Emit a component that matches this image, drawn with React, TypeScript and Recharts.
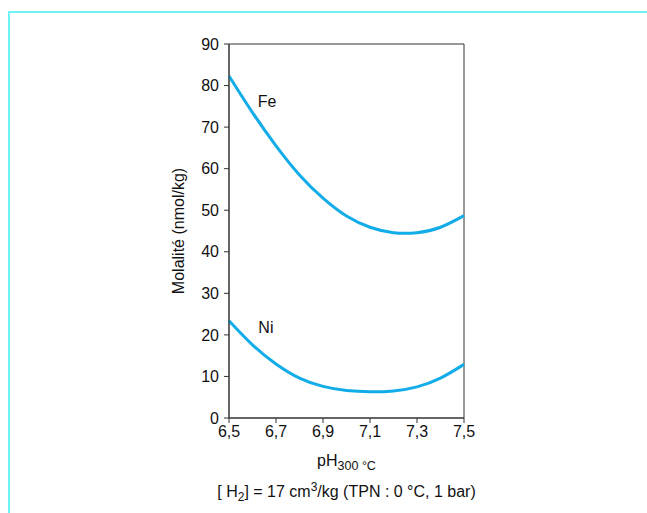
import { LineChart, Line, XAxis, YAxis, ReferenceArea, ReferenceDot } from 'recharts';

// pH at 300 °C
const ph = [6.5, 6.6, 6.7, 6.8, 6.9, 7.0, 7.1, 7.2, 7.3, 7.4, 7.5];
// molality, nmol/kg
const fe = [82.3, 73.5, 65.5, 58.5, 52.9, 48.6, 45.9, 44.6, 44.6, 45.9, 48.7];
const ni = [23.4, 17.6, 13.0, 9.6, 7.6, 6.6, 6.3, 6.5, 7.5, 9.6, 12.9];

const xTicks = [6.5, 6.7, 6.9, 7.1, 7.3, 7.5];
const yTicks = [0, 10, 20, 30, 40, 50, 60, 70, 80, 90];

const seriesLabels = [
  { name: 'Fe', x: 6.662, y: 76.2 },
  { name: 'Ni', x: 6.657, y: 21.9 },
];

const data = ph.map((p, i) => ({ ph: p, fe: fe[i], ni: ni[i] }));

const FONT = '"Liberation Sans", Arial, Helvetica, sans-serif';
const AXIS = '#333';
const CURVE = '#12ace8';
const FS = 16;

const fmt = (v: number) => v.toFixed(1).replace('.', ',');

function XLabel(props: any) {
  const { viewBox } = props;
  const cx = viewBox.x + viewBox.width / 2;
  const y = viewBox.y;
  return (
    <g fontFamily={FONT} fill="#111">
      <text x={cx} y={y + 48} textAnchor="middle" fontSize={FS}>
        pH<tspan fontSize={12.5} dy={4}>300 °C</tspan>
      </text>
      <text x={cx} y={y + 79} textAnchor="middle" fontSize={FS}>
        [ H<tspan fontSize={12} dy={4}>2</tspan>
        <tspan dy={-4}>] = 17 cm</tspan>
        <tspan fontSize={12} dy={-6}>3</tspan>
        <tspan dy={6}>/kg (TPN : 0 °C, 1 bar)</tspan>
      </text>
    </g>
  );
}

export default function App() {
  return (
    <div style={{ position: 'absolute', left: 0, top: 0, width: 647, height: 513, background: '#fff' }}>
      {/* cyan frame */}
      <div
        style={{
          position: 'absolute',
          left: 8,
          top: 11,
          width: 639,
          height: 502,
          borderTop: '2px solid #72f2f2',
          borderLeft: '2px solid #72f2f2',
          boxSizing: 'border-box',
        }}
      />
      <div style={{ position: 'absolute', left: 0, top: 0 }}>
        <LineChart width={647} height={513} data={data} margin={{ top: 44, right: 183, bottom: 65, left: 0 }}>
          <XAxis
            dataKey="ph"
            type="number"
            domain={[6.5, 7.5]}
            ticks={xTicks}
            tickFormatter={fmt}
            height={30}
            tickSize={5}
            tickMargin={3}
            stroke={AXIS}
            tick={{ fill: '#111', fontSize: FS, fontFamily: FONT }}
            label={<XLabel />}
          />
          <YAxis
            type="number"
            domain={[0, 90]}
            ticks={yTicks}
            width={229}
            tickSize={5}
            tickMargin={5}
            stroke={AXIS}
            tick={{ fill: '#111', fontSize: FS, fontFamily: FONT }}
            label={{
              value: 'Molalité (nmol/kg)',
              angle: -90,
              position: 'insideRight',
              offset: 51,
              style: { textAnchor: 'middle', fill: '#111', fontSize: FS, fontFamily: FONT },
            }}
          />
          <ReferenceArea x1={6.5} x2={7.5} y1={0} y2={90} fill="none" stroke={AXIS} strokeWidth={1} />
          <Line type="natural" dataKey="fe" stroke={CURVE} strokeWidth={3} dot={false} isAnimationActive={false} />
          <Line type="natural" dataKey="ni" stroke={CURVE} strokeWidth={3} dot={false} isAnimationActive={false} />
          {seriesLabels.map((s) => (
            <ReferenceDot
              key={s.name}
              x={s.x}
              y={s.y}
              r={0}
              fill="none"
              stroke="none"
              label={{ value: s.name, position: 'center', fill: '#111', fontSize: FS, fontFamily: FONT }}
            />
          ))}
        </LineChart>
      </div>
    </div>
  );
}
